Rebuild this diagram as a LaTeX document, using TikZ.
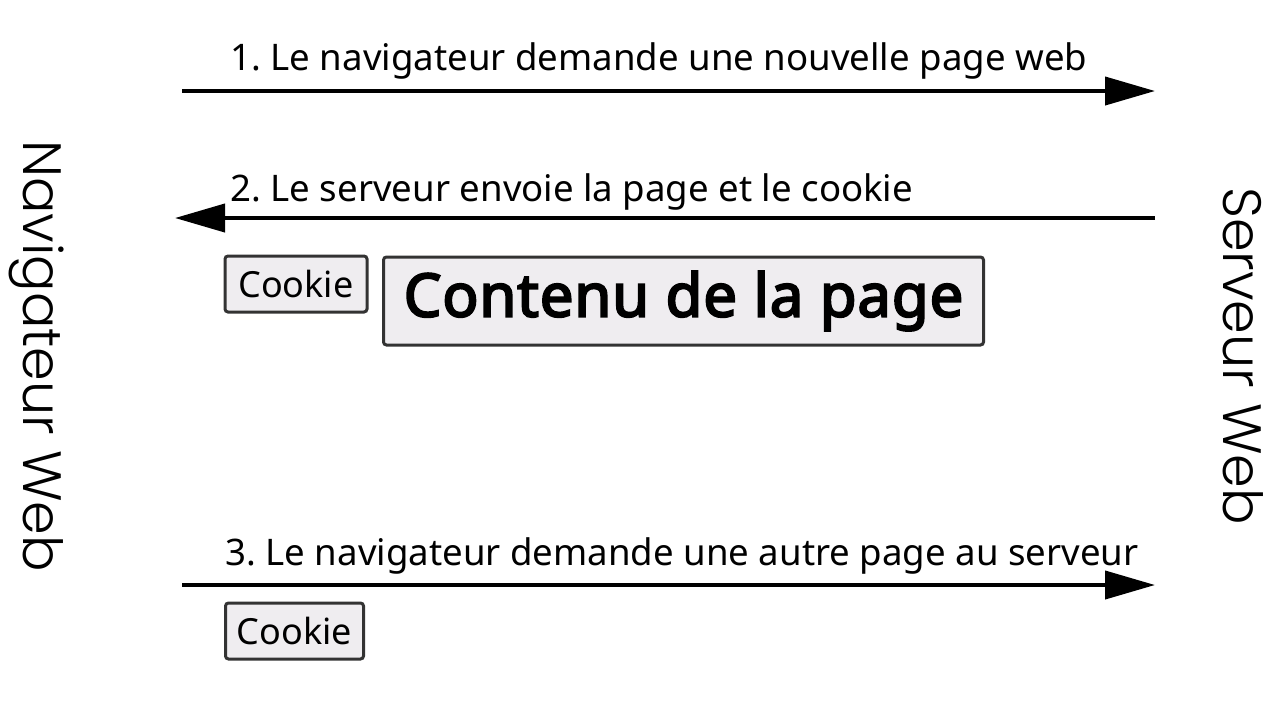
\documentclass[tikz,border=0pt]{standalone}
\usepackage{fontspec}
\setmainfont{Noto Sans}
\newfontfamily\pagefont{Noto Sans}[FakeBold=3.5,LetterSpace=1.5]
\newfontfamily\sidefont{Poppins Light}
\usetikzlibrary{arrows.meta}
\definecolor{boxfill}{RGB}{239,237,240}
\frenchspacing

\begin{document}
\begin{tikzpicture}[x=0.5pt,y=-0.5pt,
    msg/.style={line width=2pt,-{Triangle[length=25pt,width=14pt]}},
    lbl/.style={anchor=base west,inner sep=0pt,font=\fontsize{18.3}{20}\selectfont},
    databox/.style={draw=black!80,fill=boxfill,line width=1.5pt,rounded corners=1.5pt,inner sep=0pt},
    side/.style={inner sep=0pt,font=\sidefont\fontsize{27}{30}\selectfont,rotate=-90}]

    \useasboundingbox (0,0) rectangle (1280,714);

    % the two ends
    \node[side] (nav) at (37,356) {Navigateur Web};
    \node[side] (srv) at (1243,356) {Serveur Web};

    \coordinate (a1) at (182,91);   \coordinate (b1) at (1155,91);
    \coordinate (a2) at (1155,218); \coordinate (b2) at (175,218);
    \coordinate (a3) at (182,585);  \coordinate (b3) at (1155,585);

    \draw[msg] (a1) -- (b1);
    \draw[msg] (a2) -- (b2);
    \draw[msg] (a3) -- (b3);

    \node[lbl] (m1) at (230,70) {1. Le navigateur demande une nouvelle page web};
    \node[lbl] (m2) at (230,201) {2. Le serveur envoie la page et le cookie};
    \node[lbl] (m3) at (225,565) {3. Le navigateur demande une autre page au serveur};

    % what goes with the answer
    \node[databox,minimum width=71pt,minimum height=28pt,font=\fontsize{18}{20}\selectfont] (ck1) at (296,284) {Cookie};
    \node[databox,minimum width=300pt,minimum height=44pt,font=\pagefont\fontsize{29.9}{32}\selectfont] (page) at (683.5,301) {Contenu de la page};
    \node[databox,minimum width=69pt,minimum height=28pt,font=\fontsize{18}{20}\selectfont] (ck2) at (294.5,631) {Cookie};
\end{tikzpicture}
\end{document}
